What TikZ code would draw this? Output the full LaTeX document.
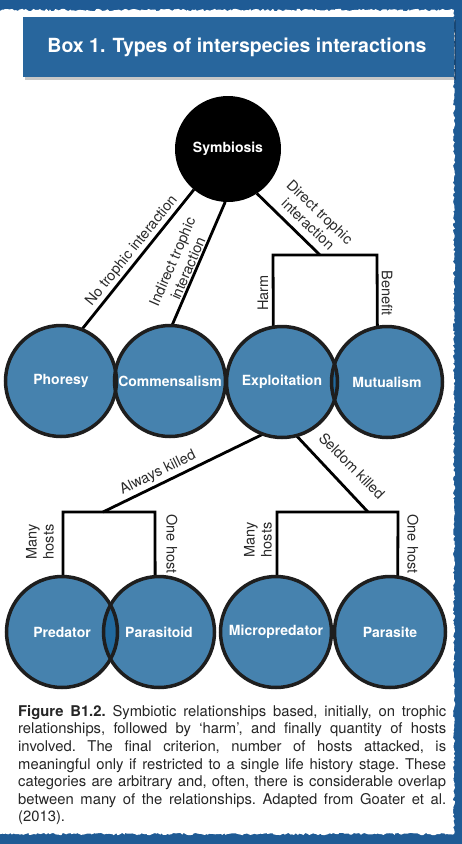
\documentclass[tikz,border=0pt]{standalone}
\usepackage{fontspec}
\setmainfont{TeX Gyre Heros}
\usetikzlibrary{decorations.pathmorphing}
\definecolor{frameblue}{HTML}{1F5B95}
\definecolor{barblue}{HTML}{28669D}
\definecolor{bubfill}{HTML}{18639A}
\definecolor{ringcol}{HTML}{1E1E1E}
\definecolor{lblcol}{HTML}{2A2A2A}
\begin{document}
\begin{tikzpicture}[x=1pt,y=-1pt,
  bub/.style={circle, minimum size=111pt, inner sep=0pt, outer sep=0pt, fill=bubfill, fill opacity=0.8, text opacity=1, text=white, font=\fontsize{14}{16}\selectfont\bfseries},
  ring/.style={draw=ringcol, line width=3.5pt},
  conn/.style={line width=2.8pt, black},
  lbl/.style={text=lblcol, font=\fontsize{14.5}{17}\selectfont, align=center, inner sep=0pt},
]
\useasboundingbox (0,0) rectangle (462,844);
% ragged frame
\pgfmathsetseed{7}
\fill[frameblue] (0,0) rectangle (462,844);
\fill[white, decorate, decoration={random steps, segment length=2pt, amplitude=1.2pt}]
  (-20,10) -- (454,10) -- (454,834) -- (-20,834) -- cycle;
% title bar
\fill[black, opacity=0.22] (25,20) rectangle (456,80);
\fill[barblue] (23,17) rectangle (454,77);
\node[font=\fontsize{19.5}{22}\selectfont\bfseries, text=white] (title) at (237,47) {Box 1. Types of interspecies interactions};

% nodes
\node[circle, minimum size=106pt, inner sep=0pt, outer sep=0pt, fill=black, text=white, font=\fontsize{14}{16}\selectfont\bfseries] (sym) at (228,149) {Symbiosis};
\node[bub] (pho) at (61,381) {Phoresy};
\node[bub] (com) at (170,381) {Commensalism};
\node[bub] (exp) at (282,382) {Exploitation};
\node[bub] (mut) at (387,382) {Mutualism};
\node[bub] (pred) at (62,632) {Predator};
\node[bub] (psd) at (159,632) {Parasitoid};
\node[bub] (mic) at (276,632) {Micropredator};
\node[bub] (par) at (390,632) {Parasite};

% junction coordinates
\coordinate (dj) at (320,255);
\coordinate (hl) at (273,255);
\coordinate (hr) at (377,255);
\coordinate (ak) at (103,512);
\coordinate (bl1) at (63,512);
\coordinate (bl2) at (155,512);
\coordinate (sk) at (368,512);
\coordinate (br1) at (277,512);
\coordinate (br2) at (398,512);

% connectors
\draw[conn] (sym.230) -- (pho.68);
\draw[conn] (sym.267) -- (com.88);
\draw[conn] (sym.303) -- (dj);
\draw[conn] (exp.99) -- (hl) -- (hr) -- (mut.100);
\draw[conn] (exp.250) -- (ak);
\draw[conn] (pred.89) -- (bl1) -- (bl2) -- (psd.94);
\draw[conn] (exp.285) -- (sk);
\draw[conn] (mic.89) -- (br1) -- (br2) -- (par.82);

% rings
\foreach \n in {pho,com,exp,mut,pred,psd,mic,par}
  \draw[ring] (\n.center) circle[radius=55.5pt];

% labels
\node[lbl, rotate=51.1] (l1) at (132,251) {No trophic interaction};
\node[lbl, rotate=66.5] (l2) at (180,265) {Indirect trophic\\interaction};
\node[lbl, rotate=-43.8] (l3) at (314,218) {Direct trophic\\interaction};
\node[lbl, rotate=90] (l4) at (263,293) {Harm};
\node[lbl, rotate=-90] (l5) at (387,293) {Benefit};
\node[lbl, rotate=25.9] (l6) at (158,473) {Always killed};
\node[lbl, rotate=-45.3] (l7) at (352,466) {Seldom killed};
\node[lbl, rotate=90] (l8) at (40,542) {Many\\hosts};
\node[lbl, rotate=-90] (l9) at (172,544) {One host};
\node[lbl, rotate=90] (l10) at (258,540) {Many\\hosts};
\node[lbl, rotate=-90] (l11) at (413,544) {One host};

% caption
\node[anchor=north west, text width=428pt, inner sep=0pt, align=justify, text=black!85,
      font=\fontsize{14.8}{17.6}\selectfont] (cap) at (18,705)
{\frenchspacing\hyphenpenalty=10000 \textbf{Figure B1.2.} Symbiotic relationships based, initially, on trophic\linebreak
relationships, followed by `harm', and finally quantity of hosts\linebreak
involved. The final criterion, number of hosts attacked, is\linebreak
meaningful only if restricted to a single life history stage. These\linebreak
categories are arbitrary and, often, there is considerable overlap\linebreak
between many of the relationships. Adapted from Goater et al.\linebreak
(2013).};
\end{tikzpicture}
\end{document}
